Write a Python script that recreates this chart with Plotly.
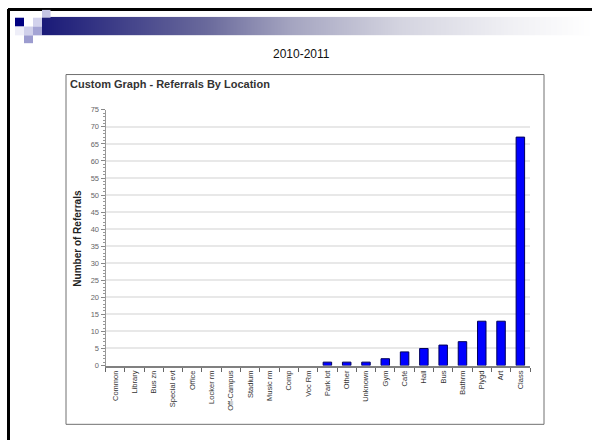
import plotly.graph_objects as go

# Referrals by location, 2010-2011
locations = ["Common", "Library", "Bus zn", "Special evt", "Office", "Locker rm",
             "Off-Campus", "Stadium", "Music rm", "Comp", "Voc Rm", "Park lot",
             "Other", "Unknown", "Gym", "Café", "Hall", "Bus", "Bathrm",
             "Plygd", "Art", "Class"]
referrals = [0, 0, 0, 0, 0, 0, 0, 0, 0, 0, 0, 1, 1, 1, 2, 4, 5, 6, 7, 13, 13, 67]

W, H = 592, 445


def fx(px):
    return px / W


def fy(py):
    return 1 - py / H


fig = go.Figure()

# header gradient band
fig.add_trace(go.Heatmap(
    z=[list(range(101))], x=list(range(101)), y=[0],
    xaxis="x2", yaxis="y2", showscale=False, zsmooth="best", hoverinfo="skip",
    colorscale=[[0, "#1a1a78"], [0.3, "#6a6a9c"], [0.45, "#a4a4c0"],
                [0.65, "#d4d4e0"], [0.85, "#f0f0f4"], [1, "#ffffff"]],
))

# empty categories get no outline so nothing is drawn at zero
outline_w = [1 if v > 0 else 0 for v in referrals]
fig.add_trace(go.Bar(
    x=locations, y=referrals, width=0.44,
    marker=dict(color="#0000ff", line=dict(color="#00005a", width=outline_w)),
    hoverinfo="x+y",
))

shapes = []
# chart frame
shapes.append(dict(type="rect", xref="paper", yref="paper", layer="below",
                   x0=fx(66), x1=fx(544), y0=fy(429), y1=fy(72),
                   line=dict(color="#707070", width=1), fillcolor="white"))
# slide border (top and left)
shapes.append(dict(type="line", xref="paper", yref="paper",
                   x0=fx(8), x1=fx(592), y0=fy(5.5), y1=fy(5.5),
                   line=dict(color="black", width=3)))
shapes.append(dict(type="line", xref="paper", yref="paper",
                   x0=fx(8.5), x1=fx(8.5), y0=fy(5), y1=fy(445),
                   line=dict(color="black", width=3)))

# decorative squares in the corner: (col, row, colour)
cols = [15, 24, 33, 42, 50.5]
rows = [6, 14, 23, 32, 40]
squares = [
    (3, 0, "#c4c4e4"),
    (0, 1, "#000080"),
    (2, 1, "#d2d2ec"),
    (0, 2, "#eeeef8"),
    (1, 2, "#d0d0ea"),
    (2, 2, "#a4a4d4"),
    (1, 3, "#9c9ccf"),
]
for c, r, col in squares:
    shapes.append(dict(type="rect", xref="paper", yref="paper",
                       x0=fx(cols[c]), x1=fx(cols[c + 1]),
                       y0=fy(rows[r + 1]), y1=fy(rows[r]),
                       line=dict(width=0), fillcolor=col))

annotations = [
    dict(text="2010-2011", xref="paper", yref="paper", x=fx(301.5), y=fy(51),
         showarrow=False, xanchor="center", yanchor="middle",
         font=dict(family="Liberation Sans, Arial, sans-serif", size=12, color="#111")),
    dict(text="<b>Custom Graph - Referrals By Location</b>", xref="paper", yref="paper",
         x=fx(68), y=fy(82), showarrow=False, xanchor="left", yanchor="middle",
         font=dict(family="Liberation Sans, Arial, sans-serif", size=11, color="#333")),
    dict(text="<b>Number of Referrals</b>", xref="paper", yref="paper",
         x=fx(77.5), y=fy(239), showarrow=False, textangle=-90,
         xanchor="center", yanchor="middle",
         font=dict(family="Liberation Sans Narrow, Arial Narrow, Liberation Sans, sans-serif",
                   size=10, color="#222")),
]

fig.update_layout(
    width=W, height=H, margin=dict(l=0, r=0, t=0, b=0),
    paper_bgcolor="white", plot_bgcolor="rgba(0,0,0,0)",
    showlegend=False, shapes=shapes, annotations=annotations,
    bargap=0.5,
    xaxis=dict(
        domain=[fx(105.5), fx(530)], type="category",
        categoryorder="array", categoryarray=locations,
        tickson="boundaries", ticks="outside", ticklen=4, tickcolor="#666",
        showline=True, linecolor="#808080", linewidth=2,
        tickangle=-90, showgrid=False, zeroline=False,
        tickfont=dict(family="Liberation Sans, Arial, sans-serif", size=7.5, color="#333"),
    ),
    yaxis=dict(
        domain=[fy(369), fy(108)], range=[0, 75], dtick=5,
        showgrid=True, gridcolor="#e8e8e8", gridwidth=1.5,
        ticks="outside", ticklen=4, tickcolor="#888",
        minor=dict(dtick=1, ticks="outside", ticklen=2, tickcolor="#999", showgrid=False),
        showline=True, linecolor="#999", linewidth=1, zeroline=False,
        tickfont=dict(family="Liberation Sans, Arial, sans-serif", size=7.5, color="#666"),
    ),
    xaxis2=dict(domain=[fx(42), fx(592)], range=[0, 100], visible=False,
                anchor="y2", fixedrange=True),
    yaxis2=dict(domain=[fy(32), fy(13)], range=[-0.5, 0.5], visible=False,
                anchor="x2", fixedrange=True),
)

fig.write_html("out.html")
